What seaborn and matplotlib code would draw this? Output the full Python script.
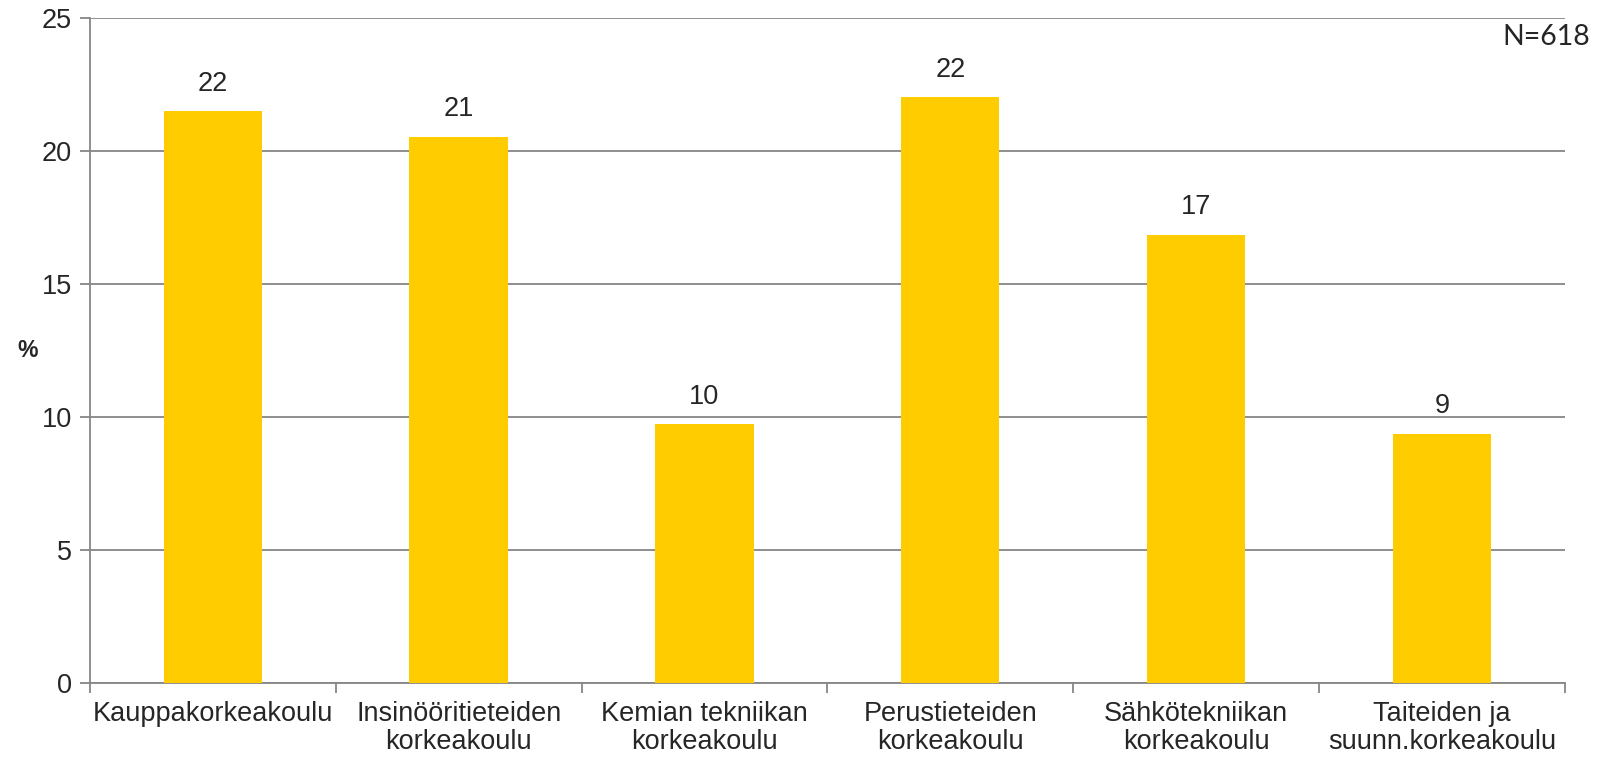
import matplotlib
matplotlib.use('Agg')
import numpy as np
import pandas as pd
import seaborn as sns
import matplotlib.pyplot as plt

# data
schools = ['Kauppakorkeakoulu', 'Insinööritieteiden\nkorkeakoulu', 'Kemian tekniikan\nkorkeakoulu',
           'Perustieteiden\nkorkeakoulu', 'Sähkötekniikan\nkorkeakoulu', 'Taiteiden ja\nsuunn.korkeakoulu']
percent = [21.5, 20.55, 9.73, 22.03, 16.85, 9.38]
shown_labels = ['22', '21', '10', '22', '17', '9']

df = pd.DataFrame({'school': schools, 'percent': percent})

sns.set_style('white')
plt.rcParams['font.family'] = ['Liberation Sans', 'DejaVu Sans']

fig = plt.figure(figsize=(16.05, 7.58), dpi=100)
ax = fig.add_axes([0.056, 0.099, 0.919, 0.877])

sns.barplot(data=df, x='school', y='percent', color='#FFCC00', saturation=1, width=0.4,
            linewidth=0, edgecolor='none', ax=ax, zorder=3)

grey = '#868686'
fs = 19.5
ax.set_ylim(0, 25)
ax.set_xlim(-0.5, len(schools) - 0.5)
ax.set_yticks(range(0, 26, 5))
ax.yaxis.grid(True, color=grey, linewidth=1.3, zorder=0)
ax.set_axisbelow(True)

# category labels at centres, tick marks at boundaries
ax.set_xticks(np.arange(len(schools)))
ax.set_xticklabels(schools, fontsize=fs, linespacing=1.12)
ax.set_xticks(np.arange(len(schools) + 1) - 0.5, minor=True)
ax.tick_params(axis='x', which='major', bottom=True, length=0, pad=13)
ax.tick_params(axis='x', which='minor', bottom=True, length=7, width=1.3, color=grey, direction='out')
ax.tick_params(axis='y', left=True, length=7, width=1.3, color=grey, direction='out', labelsize=fs, pad=6)

for s in ['top', 'right']:
    ax.spines[s].set_visible(False)
for s in ['left', 'bottom']:
    ax.spines[s].set_color(grey)
    ax.spines[s].set_linewidth(1.3)

ax.set_xlabel('')
ax.set_ylabel('%', fontsize=fs * 0.85, fontweight='bold', rotation=0, va='center', ha='center')
ax.yaxis.set_label_coords(-0.042, 0.5)

for i, (v, lab) in enumerate(zip(percent, shown_labels)):
    ax.text(i, v + 0.55, lab, ha='center', va='bottom', fontsize=fs)

fig.text(0.991, 0.951, 'N=618', ha='right', va='center', fontsize=20.5, family=['Lato', 'DejaVu Sans'])

fig.savefig('out.png', dpi=100)
